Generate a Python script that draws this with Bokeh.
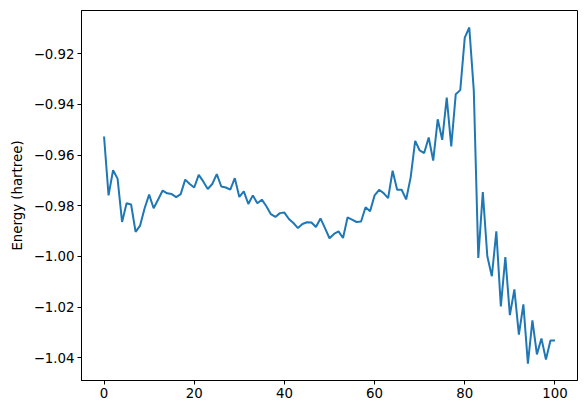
from bokeh.plotting import figure
from bokeh.models import Range1d, FixedTicker, CustomJSTickFormatter, ColumnDataSource
from bokeh.embed import file_html
from bokeh.resources import INLINE

step = list(range(101))
energy = [
    -0.9527, -0.9759, -0.9660, -0.9693, -0.9864, -0.9790, -0.9795, -0.9903, -0.9878, -0.9810,
    -0.9756, -0.9810, -0.9775, -0.9740, -0.9751, -0.9754, -0.9766, -0.9754, -0.9697, -0.9714,
    -0.9728, -0.9678, -0.9704, -0.9734, -0.9714, -0.9675, -0.9724, -0.9728, -0.9736, -0.9691,
    -0.9765, -0.9743, -0.9793, -0.9759, -0.9790, -0.9776, -0.9802, -0.9833, -0.9844, -0.9829,
    -0.9827, -0.9852, -0.9868, -0.9888, -0.9872, -0.9865, -0.9866, -0.9884, -0.9850, -0.9888,
    -0.9928, -0.9911, -0.9901, -0.9927, -0.9846, -0.9855, -0.9864, -0.9862, -0.9806, -0.9822,
    -0.9759, -0.9737, -0.9750, -0.9770, -0.9662, -0.9737, -0.9737, -0.9775, -0.9688, -0.9544,
    -0.9582, -0.9592, -0.9531, -0.9622, -0.9459, -0.9540, -0.9373, -0.9566, -0.9360, -0.9344,
    -0.9137, -0.9097, -0.9345, -1.0006, -0.9746, -0.9999, -1.0078, -0.9901, -1.0197, -1.0002,
    -1.0231, -1.0130, -1.0308, -1.0189, -1.0423, -1.0252, -1.0386, -1.0323, -1.0406, -1.0331,
    -1.0331,
]
x_ticks = [0, 20, 40, 60, 80, 100]
y_ticks = [-1.04, -1.02, -1.00, -0.98, -0.96, -0.94, -0.92]
y_label = "Energy (hartree)"

src = ColumnDataSource(data=dict(step=step, energy=energy))

p = figure(width=579, height=405, output_backend="svg", toolbar_location=None,
           x_range=Range1d(-5, 105), y_range=Range1d(-1.0489, -0.9030),
           min_border_left=81, min_border_right=2, min_border_top=10, min_border_bottom=25)
p.line("step", "energy", source=src, line_color="#1f77b4", line_width=2)

p.background_fill_color = "white"
p.border_fill_color = "white"
p.outline_line_color = "black"
p.outline_line_width = 1
p.grid.visible = False

for ax in (p.xaxis[0], p.yaxis[0]):
    ax.axis_line_color = "black"
    ax.major_tick_in = 0
    ax.major_tick_out = 4
    ax.minor_tick_line_color = None
    ax.major_label_text_font = "DejaVu Sans"
    ax.major_label_text_font_size = "10pt"
    ax.major_label_text_color = "black"
    ax.major_label_standoff = 3

p.xaxis.ticker = FixedTicker(ticks=x_ticks)
p.yaxis.ticker = FixedTicker(ticks=y_ticks)
p.yaxis.formatter = CustomJSTickFormatter(
    code="return (tick < 0 ? '\u2212' : '') + Math.abs(tick).toFixed(2);")
p.yaxis.axis_label = y_label
p.yaxis.axis_label_text_font = "DejaVu Sans"
p.yaxis.axis_label_text_font_size = "10pt"
p.yaxis.axis_label_text_font_style = "normal"
p.yaxis.axis_label_text_color = "black"
p.yaxis.axis_label_standoff = 6

open("out.html", "w").write(file_html(p, INLINE))
